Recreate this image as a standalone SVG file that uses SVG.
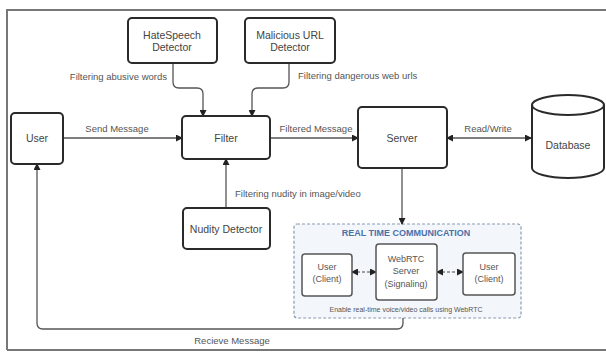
<svg xmlns="http://www.w3.org/2000/svg" width="606" height="352" viewBox="0 0 606 352">
<style>
.box{fill:#fff;stroke:#2a2a2a;stroke-width:2}
.t{font-family:"Liberation Sans",Arial,sans-serif;font-size:10.5px;fill:#444;text-anchor:middle;dominant-baseline:central}
.lbl{font-family:"Liberation Sans",Arial,sans-serif;font-size:9.5px;fill:#555;dominant-baseline:central}
.c{fill:none;stroke:#555;stroke-width:1.3}
.d{fill:none;stroke:#444;stroke-width:1.2;stroke-dasharray:3 2}
.rt{font-family:"Liberation Sans",Arial,sans-serif;font-size:9px;fill:#555;text-anchor:middle;dominant-baseline:central}
</style>
<defs>
<marker id="ah" markerWidth="7" markerHeight="7" refX="6" refY="3.5" orient="auto" markerUnits="userSpaceOnUse">
<path d="M0,0 L7,3.5 L0,7 z" fill="#222"/>
</marker>
<marker id="as" markerWidth="7" markerHeight="7" refX="1" refY="3.5" orient="auto" markerUnits="userSpaceOnUse">
<path d="M7,0 L0,3.5 L7,7 z" fill="#222"/>
</marker>
</defs>
<rect width="606" height="352" fill="#fff"/>
<path d="M7,350 V10 H606" fill="none" stroke="#777" stroke-width="2"/>
<path d="M7,350 H606" fill="none" stroke="#777" stroke-width="2"/>

<g id="rtc">
<rect x="294" y="224" width="227" height="94" rx="3" fill="#f3f7fc" stroke="#8a9bb0" stroke-width="1.2" stroke-dasharray="3 2"/>
<text x="406" y="233" font-family="Liberation Sans,Arial,sans-serif" font-size="9px" font-weight="bold" fill="#4b6fa8" text-anchor="middle" dominant-baseline="central">REAL TIME COMMUNICATION</text>
<text x="406" y="309" font-family="Liberation Sans,Arial,sans-serif" font-size="7px" fill="#555" text-anchor="middle" dominant-baseline="central">Enable real-time voice/video calls using WebRTC</text>
</g>

<g id="connectors">
<path class="c" d="M63,138 H182" marker-end="url(#ah)"/>
<text class="lbl" x="117" y="128" text-anchor="middle">Send Message</text>
<path class="c" d="M270,138 H358" marker-end="url(#ah)"/>
<text class="lbl" x="316" y="128" text-anchor="middle">Filtered Message</text>
<path class="c" d="M447,138 H531" marker-start="url(#as)" marker-end="url(#ah)"/>
<text class="lbl" x="488" y="128" text-anchor="middle">Read/Write</text>
<path class="c" d="M173,63 V82 Q173,88 179,88 H197 Q203,88 203,94 V116" marker-end="url(#ah)"/>
<text class="lbl" x="167" y="76" text-anchor="end">Filtering abusive words</text>
<path class="c" d="M289,63 V82 Q289,88 283,88 H258 Q252,88 252,94 V116" marker-end="url(#ah)"/>
<text class="lbl" x="298" y="75">Filtering dangerous web urls</text>
<path class="c" d="M226,208 V159" marker-end="url(#ah)"/>
<text class="lbl" x="235" y="193">Filtering nudity in image/video</text>
<path class="c" d="M402,168 V224" marker-end="url(#ah)"/>
<path class="c" d="M403,318 V323 Q403,329 397,329 H43 Q37,329 37,323 V164" marker-end="url(#ah)"/>
<text class="lbl" x="232" y="340" text-anchor="middle">Recieve Message</text>
<path class="d" d="M352,272 H376" marker-start="url(#as)" marker-end="url(#ah)"/>
<path class="d" d="M437,272 H463" marker-start="url(#as)" marker-end="url(#ah)"/>
</g>

<g id="hatespeech">
<rect class="box" x="128" y="18" width="89" height="45" rx="4"/>
<text class="t" x="172" y="35">HateSpeech</text>
<text class="t" x="172" y="47">Detector</text>
</g>
<g id="malicious">
<rect class="box" x="245" y="18" width="90" height="45" rx="4"/>
<text class="t" x="290" y="35">Malicious URL</text>
<text class="t" x="290" y="47">Detector</text>
</g>
<g id="user">
<rect class="box" x="11" y="113" width="52" height="51" rx="4"/>
<text class="t" x="37" y="138">User</text>
</g>
<g id="filter">
<rect class="box" x="182" y="116" width="88" height="43" rx="4"/>
<text class="t" x="226" y="138">Filter</text>
</g>
<g id="server">
<rect class="box" x="358" y="107" width="89" height="61" rx="4"/>
<text class="t" x="402" y="138">Server</text>
</g>
<g id="database">
<path d="M532,105 V168 A36,10 0 0 0 604,168 V105" fill="#fff" stroke="#2a2a2a" stroke-width="2"/>
<ellipse cx="568" cy="105" rx="36" ry="10" fill="#fff" stroke="#2a2a2a" stroke-width="2"/>
<text class="t" x="568" y="145">Database</text>
</g>
<g id="nudity">
<rect class="box" x="183" y="208" width="87" height="41" rx="4"/>
<text class="t" x="226" y="229">Nudity Detector</text>
</g>
<g id="client1">
<rect x="302" y="254" width="50" height="42" rx="3" fill="#fff" stroke="#555" stroke-width="1.5"/>
<text class="rt" x="327" y="267">User</text>
<text class="rt" x="327" y="279">(Client)</text>
</g>
<g id="webrtc">
<rect x="376" y="244" width="61" height="56" rx="3" fill="#fff" stroke="#555" stroke-width="1.5"/>
<text class="rt" x="406" y="259">WebRTC</text>
<text class="rt" x="406" y="271">Server</text>
<text class="rt" x="406" y="284">(Signaling)</text>
</g>
<g id="client2">
<rect x="463" y="253" width="52" height="42" rx="3" fill="#fff" stroke="#555" stroke-width="1.5"/>
<text class="rt" x="489" y="267">User</text>
<text class="rt" x="489" y="279">(Client)</text>
</g>
</svg>
